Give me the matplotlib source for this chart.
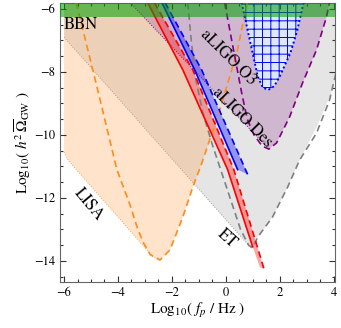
import numpy as np
import matplotlib.pyplot as plt
from matplotlib.ticker import MultipleLocator

plt.rcParams['font.family'] = 'STIXGeneral'
plt.rcParams['mathtext.fontset'] = 'stix'
plt.rcParams['hatch.linewidth'] = 0.7

# top of the plot and BBN bound
y_top = -5.8
bbn_y = -6.25

# LISA sensitivity curve (orange dashed)
lisa_x = [-5.55, -4.8, -4.04, -3.56, -3.3, -3.07, -2.8, -2.44, -2.07, -1.59, -1.22, -0.89, -0.22, 0.41, 0.8]
lisa_y = [-5.8, -8.4, -11.1, -12.2, -12.9, -13.4, -13.8, -13.97, -13.65, -12.6, -11.65, -10.9, -9.2, -7.4, -5.8]
# lower-left edge of the LISA shaded region
lisa_edge_x = [-6.0, -6.0, -5.85, -2.7, -2.44]
lisa_edge_y = [-5.8, -10.55, -10.8, -13.87, -13.97]

# ET sensitivity curve (grey dashed)
et_x = [-1.41, -1.28, -1.12, -0.85, -0.5, -0.15, 0.22, 0.55, 0.85, 1.0, 1.19, 1.74, 2.3, 2.74, 3.37, 3.85, 4.1]
et_y = [-5.8, -7.0, -8.2, -9.3, -10.3, -11.2, -12.15, -13.0, -13.5, -13.58, -13.24, -12.6, -11.65, -10.8, -9.94, -8.9, -8.0]
et_edge_x = [-6.0, 0.95]
et_edge_y = [-6.9, -13.6]
et_outer_x = [1.19, 1.74, 2.3, 2.74, 3.4, 3.9, 4.05]
et_outer_y = [-13.24, -12.6, -11.65, -10.8, -9.7, -8.7, -8.3]

# aLIGO design (purple dashed)
des_x = [-0.04, 0.2, 0.4, 0.6, 0.8, 1.05, 1.35, 1.6, 1.89, 2.37, 2.85, 3.37, 3.74, 3.85]
des_y = [-5.8, -6.9, -7.8, -8.7, -9.5, -10.0, -10.35, -10.45, -10.25, -9.43, -8.35, -7.3, -6.25, -5.8]
des_edge_x = [-3.55, 1.6]
des_edge_y = [-5.8, -10.45]

# aLIGO O3 (blue dotted)
o3_x = [0.59, 0.89, 1.19, 1.38, 1.58, 1.8, 2.0, 2.4, 2.65, 2.85, 2.9]
o3_y = [-5.8, -6.98, -8.15, -8.5, -8.57, -8.45, -8.15, -7.4, -6.7, -5.95, -5.8]

# predictions: red band and blue band
red_solid_x = [-2.9, -1.59, 0.07, 1.0]
red_solid_y = [-5.8, -7.94, -11.1, -13.55]
red_dash_x = [-2.65, -1.22, 0.3, 1.42]
red_dash_y = [-5.8, -7.94, -11.1, -14.25]
red_tail = (1.27, -14.2)

blue_solid_x = [-2.37, -1.15, 0.44]
blue_solid_y = [-5.8, -7.94, -11.1]
blue_dash_x = [-2.25, -0.89, 0.81]
blue_dash_y = [-5.8, -7.94, -11.25]

fig = plt.figure(figsize=(3.41, 3.28), dpi=100)
ax = fig.add_axes([0.176, 0.14, 0.806, 0.852])

# grey ET region
gx = [et_edge_x[0]] + et_edge_x + et_outer_x + [et_outer_x[-1]]
gy = [y_top] + et_edge_y + et_outer_y + [y_top]
ax.fill(gx, gy, facecolor='grey', alpha=0.2, edgecolor='none', zorder=1)
ax.plot(et_edge_x, et_edge_y, ls=':', color='#999999', lw=0.7, zorder=1)

# peach LISA region, right side cut by the orange curve or the red line
imin = int(np.argmin(lisa_y))
yy = np.linspace(lisa_y[imin], y_top, 200)
x_or = np.interp(yy, lisa_y[imin:], lisa_x[imin:])
x_rd = np.interp(yy, red_solid_y[::-1], red_solid_x[::-1])
x_right = np.minimum(x_or, x_rd)
px = list(lisa_edge_x) + list(x_right)
py = list(lisa_edge_y) + list(yy)
ax.fill(px, py, facecolor='#ffa550', alpha=0.3, edgecolor='none', zorder=1.1)
ax.plot(lisa_edge_x[1:], lisa_edge_y[1:], ls=':', color='#ffa550', lw=0.7, zorder=1.1)

# purple aLIGO design region
jmin = int(np.argmin(des_y))
ux = des_edge_x + des_x[jmin:]
uy = des_edge_y + des_y[jmin:]
ax.fill(ux, uy, facecolor='purple', alpha=0.2, edgecolor='none', zorder=1.2)
ax.plot(des_edge_x, des_edge_y, ls=':', color='purple', lw=0.7, zorder=1.2)

# aLIGO O3 region with grid hatch
ax.fill(o3_x, o3_y, facecolor='#dbe8ff', edgecolor='none', zorder=1.3)
ax.fill(o3_x, o3_y, facecolor='none', edgecolor='blue', hatch='++', lw=0, zorder=1.35)

# bands
rbx = red_solid_x + [red_tail[0]] + red_dash_x[::-1]
rby = red_solid_y + [red_tail[1]] + red_dash_y[::-1]
ax.fill(rbx, rby, facecolor='red', alpha=0.35, edgecolor='none', zorder=2)
bbx = blue_solid_x + blue_dash_x[::-1]
bby = blue_solid_y + blue_dash_y[::-1]
ax.fill(bbx, bby, facecolor='blue', alpha=0.35, edgecolor='none', zorder=2)

# curves
ax.plot(lisa_x, lisa_y, color='#ff8c1a', lw=1.2, dashes=(4, 2.5), zorder=3)
ax.plot(et_x, et_y, color='grey', lw=1.2, dashes=(4, 2.5), zorder=3)
ax.plot(des_x, des_y, color='purple', lw=1.2, dashes=(4, 2.5), zorder=3)
ax.plot(o3_x, o3_y, color='blue', lw=1.4, ls=(0, (1, 1.3)), zorder=3)
ax.plot(red_solid_x, red_solid_y, color='red', lw=1.2, zorder=3)
ax.plot(red_dash_x, red_dash_y, color='red', lw=1.2, dashes=(4, 2.5), zorder=3)
ax.plot(blue_solid_x, blue_solid_y, color='blue', lw=1.2, zorder=3)
ax.plot(blue_dash_x, blue_dash_y, color='blue', lw=1.2, dashes=(4, 2.5), zorder=3)

# BBN band
ax.axhspan(bbn_y, y_top, color='#00a000', alpha=0.55, lw=0, zorder=4)

# labels
ax.text(-6.0, -6.5, 'BBN', fontsize=12, ha='left', va='center', zorder=5)
ax.text(0.1, -7.55, 'aLIGO O3', fontsize=12, rotation=-45, ha='center', va='center', zorder=5)
ax.text(0.6, -9.43, 'aLIGO Des', fontsize=12, rotation=-45, ha='center', va='center', zorder=5)
ax.text(-5.1, -12.2, 'LISA', fontsize=12, rotation=-50, ha='center', va='center', zorder=5)
ax.text(0.05, -13.3, 'ET', fontsize=12, rotation=-42, ha='center', va='center', zorder=5)

ax.set_xlim(-6.15, 4.05)
ax.set_ylim(-14.67, y_top)
ax.xaxis.set_major_locator(MultipleLocator(2))
ax.xaxis.set_minor_locator(MultipleLocator(0.5))
ax.yaxis.set_major_locator(MultipleLocator(2))
ax.yaxis.set_minor_locator(MultipleLocator(0.5))
ax.tick_params(which='both', direction='in', top=True, right=True, labelsize=9, color='#333333')
ax.tick_params(which='major', length=4, width=0.8)
ax.tick_params(which='minor', length=2, width=0.8)
for s in ax.spines.values():
    s.set_color('#666666')
    s.set_linewidth(0.8)

ax.set_xlabel(r'Log$_{10}$( $f_p$ / Hz )', fontsize=11, labelpad=2)
ax.set_ylabel(r'Log$_{10}$( $h^2\,\overline{\Omega}_{\rm GW}$ )', fontsize=11, labelpad=1)

fig.savefig('out.png', dpi=100)
